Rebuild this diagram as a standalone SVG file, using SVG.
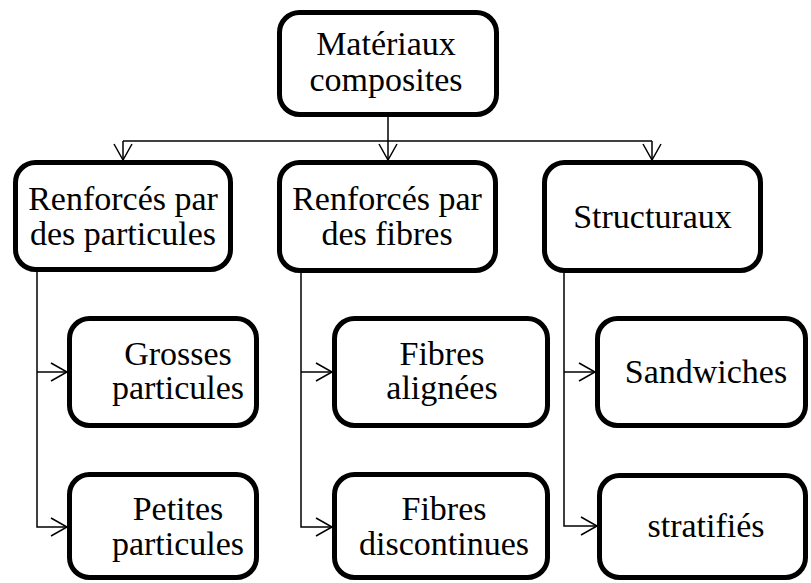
<svg xmlns="http://www.w3.org/2000/svg" width="811" height="583" viewBox="0 0 811 583">
<style>
.box{fill:#fff;stroke:#000;stroke-width:5}
.lbl{font-size:34px;fill:#000;text-anchor:middle}
.con{fill:none;stroke:#000;stroke-width:1.5}
</style>
<defs>
<marker id="arr" viewBox="-18 -10 20 20" refX="0" refY="0" markerWidth="20" markerHeight="20" markerUnits="userSpaceOnUse" orient="auto">
<path d="M-16,-9 L0,0 L-16,9" fill="none" stroke="#000" stroke-width="1.5"/>
</marker>
</defs>
<rect width="811" height="583" fill="#fff"/>
<g id="connectors">
<path class="con" d="M388,117 V160" marker-end="url(#arr)"/>
<path class="con" d="M123,141 H652"/>
<path class="con" d="M123,141 V160" marker-end="url(#arr)"/>
<path class="con" d="M652,141 V160" marker-end="url(#arr)"/>
<path class="con" d="M37,272 V527 H67" marker-end="url(#arr)"/>
<path class="con" d="M37,372 H67" marker-end="url(#arr)"/>
<path class="con" d="M301,273 V527 H332" marker-end="url(#arr)"/>
<path class="con" d="M301,372 H332" marker-end="url(#arr)"/>
<path class="con" d="M564,273 V526 H597" marker-end="url(#arr)"/>
<path class="con" d="M564,372 H595" marker-end="url(#arr)"/>
</g>
<g font-family="Liberation Serif, serif">
<g id="n-materiaux">
<rect class="box" x="279.5" y="12.5" width="217" height="102" rx="20"/>
<text class="lbl" x="386" y="55">Matériaux</text>
<text class="lbl" x="386" y="91">composites</text>
</g>
<g id="n-particules">
<rect class="box" x="15.5" y="162.5" width="215" height="107" rx="20"/>
<text class="lbl" x="123" y="210">Renforcés par</text>
<text class="lbl" x="123" y="245">des particules</text>
</g>
<g id="n-fibres">
<rect class="box" x="279.5" y="162.5" width="216" height="108" rx="20"/>
<text class="lbl" x="387" y="210">Renforcés par</text>
<text class="lbl" x="387" y="245">des fibres</text>
</g>
<g id="n-structuraux">
<rect class="box" x="544.5" y="162.5" width="216" height="108" rx="20"/>
<text class="lbl" x="652.5" y="228">Structuraux</text>
</g>
<g id="n-grosses">
<rect class="box" x="69.5" y="318.5" width="187" height="107" rx="20"/>
<text class="lbl" x="178" y="365">Grosses</text>
<text class="lbl" x="178" y="399">particules</text>
</g>
<g id="n-petites">
<rect class="box" x="69.5" y="474.5" width="187" height="103" rx="20"/>
<text class="lbl" x="178" y="520">Petites</text>
<text class="lbl" x="178" y="555">particules</text>
</g>
<g id="n-alignees">
<rect class="box" x="334.5" y="318.5" width="213" height="107" rx="20"/>
<text class="lbl" x="442" y="365">Fibres</text>
<text class="lbl" x="442" y="399">alignées</text>
</g>
<g id="n-discontinues">
<rect class="box" x="334.5" y="474.5" width="213" height="103" rx="20"/>
<text class="lbl" x="444" y="520">Fibres</text>
<text class="lbl" x="444" y="555">discontinues</text>
</g>
<g id="n-sandwiches">
<rect class="box" x="597.5" y="318.5" width="208" height="107" rx="20"/>
<text class="lbl" x="706" y="383">Sandwiches</text>
</g>
<g id="n-stratifies">
<rect class="box" x="599.5" y="475.5" width="206" height="102" rx="20"/>
<text class="lbl" x="706" y="537">stratifiés</text>
</g>
</g>
</svg>
